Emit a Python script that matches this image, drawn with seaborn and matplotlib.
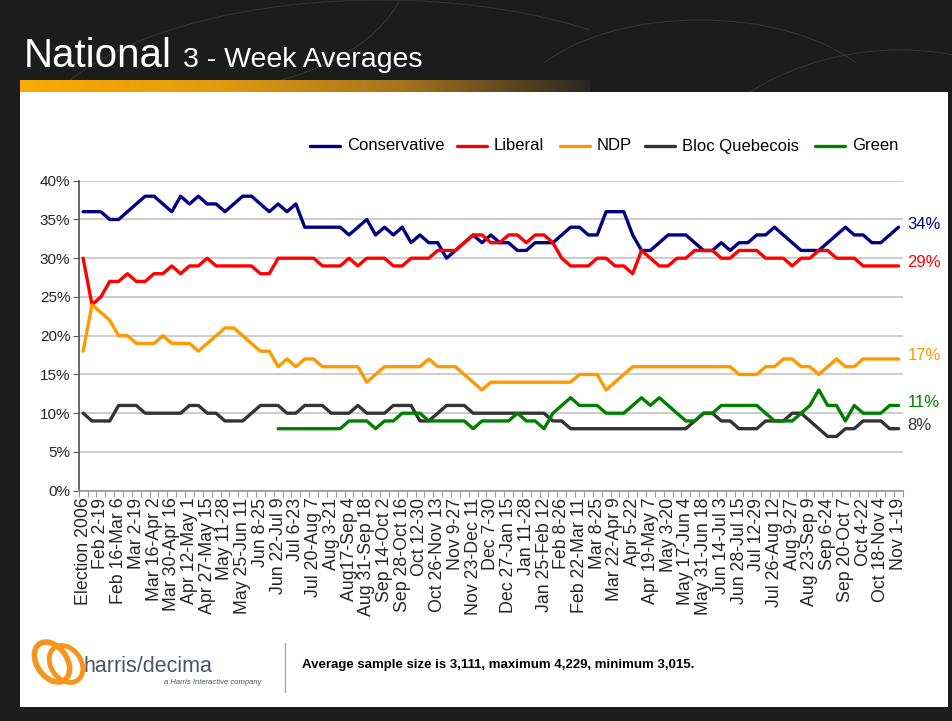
import numpy as np
import pandas as pd
import matplotlib.pyplot as plt
import matplotlib.patches as mpatches
from matplotlib.colors import LinearSegmentedColormap
import seaborn as sns

# labels shown on every second poll period
tick_labels = [
    "Election 2006", "Feb 2-19", "Feb 16-Mar 6", "Mar 2-19", "Mar 16-Apr 2",
    "Mar 30-Apr 16", "Apr 12-May 1", "Apr 27-May 15", "May 11-28", "May 25-Jun 11",
    "Jun 8-25", "Jun 22-Jul 9", "Jul 6-23", "Jul 20-Aug 7", "Aug 3-21",
    "Aug17-Sep 4", "Aug 31-Sep 18", "Sep 14-Oct 2", "Sep 28-Oct 16", "Oct 12-30",
    "Oct 26-Nov 13", "Nov 9-27", "Nov 23-Dec 11", "Dec 7-30", "Dec 27-Jan 15",
    "Jan 11-28", "Jan 25-Feb 12", "Feb 8-26", "Feb 22-Mar 11", "Mar 8-25",
    "Mar 22-Apr 9", "Apr 5-22", "Apr 19-May 7", "May 3-20", "May 17-Jun 4",
    "May 31-Jun 18", "Jun 14-Jul 3", "Jun 28-Jul 15", "Jul 12-29", "Jul 26-Aug 12",
    "Aug 9-27", "Aug 23-Sep 9", "Sep 6-24", "Sep 20-Oct 7", "Oct 4-22",
    "Oct 18-Nov 4", "Nov 1-19",
]

conservative = [36, 36, 36, 35, 35, 36, 37, 38, 38, 37, 36, 38, 37, 38, 37, 37, 36, 37, 38, 38, 37, 36, 37, 36, 37,
                34, 34, 34, 34, 34, 33, 34, 35, 33, 34, 33, 34, 32, 33, 32, 32, 30, 31, 32, 33, 32, 33,
                32, 32, 31, 31, 32, 32, 32, 33, 34, 34, 33, 33, 36, 36, 36, 33, 31, 31, 32, 33, 33, 33, 32,
                31, 31, 32, 31, 32, 32, 33, 33, 34, 33, 32, 31, 31, 31, 32, 33, 34, 33, 33, 32, 32, 33, 34]
liberal = [30, 24, 25, 27, 27, 28, 27, 27, 28, 28, 29, 28, 29, 29, 30, 29, 29, 29, 29, 29, 28, 28, 30,
           30, 30, 30, 30, 29, 29, 29, 30, 29, 30, 30, 30, 29, 29, 30, 30, 30, 31, 31, 31, 32, 33, 33, 32,
           32, 33, 33, 32, 33, 33, 32, 30, 29, 29, 29, 30, 30, 29, 29, 28, 31, 30, 29, 29, 30, 30, 31,
           31, 31, 30, 30, 31, 31, 31, 30, 30, 30, 29, 30, 30, 31, 31, 30, 30, 30, 29, 29, 29, 29, 29]
ndp = [18, 24, 23, 22, 20, 20, 19, 19, 19, 20, 19, 19, 19, 18, 19, 20, 21, 21, 20, 19, 18, 18, 16, 17,
       16, 17, 17, 16, 16, 16, 16, 16, 14, 15, 16, 16, 16, 16, 16, 17, 16, 16, 16, 15, 14, 13, 14,
       14, 14, 14, 14, 14, 14, 14, 14, 14, 15, 15, 15, 13, 14, 15, 16, 16, 16, 16, 16, 16, 16, 16,
       16, 16, 16, 16, 15, 15, 15, 16, 16, 17, 17, 16, 16, 15, 16, 17, 16, 16, 17, 17, 17, 17, 17]
bloc = [10, 9, 9, 9, 11, 11, 11, 10, 10, 10, 10, 10, 11, 11, 10, 10, 9, 9, 9, 10, 11, 11, 11, 10,
        10, 11, 11, 11, 10, 10, 10, 11, 10, 10, 10, 11, 11, 11, 9, 9, 10, 11, 11, 11, 10, 10, 10,
        10, 10, 10, 10, 10, 10, 9, 9, 8, 8, 8, 8, 8, 8, 8, 8, 8, 8, 8, 8, 8, 8, 9,
        10, 10, 9, 9, 8, 8, 8, 9, 9, 9, 10, 10, 9, 8, 7, 7, 8, 8, 9, 9, 9, 8, 8]
green = [np.nan] * 22 + [
    8, 8, 8, 8, 8, 8, 8, 8, 9, 9, 9, 8, 9, 9, 10, 10, 10, 9, 9, 9, 9, 9, 8, 9, 9,
    9, 9, 10, 9, 9, 8, 10, 11, 12, 11, 11, 11, 10, 10, 10, 11, 12, 11, 12, 11, 10, 9, 9,
    10, 10, 11, 11, 11, 11, 11, 10, 9, 9, 9, 10, 11, 13, 11, 11, 9, 11, 10, 10, 10, 11, 11]

parties = ["Conservative", "Liberal", "NDP", "Bloc Quebecois", "Green"]
colors = ["#000080", "#ff0000", "#ff9900", "#333333", "#008000"]

wide = pd.DataFrame({"Conservative": conservative, "Liberal": liberal, "NDP": ndp,
                     "Bloc Quebecois": bloc, "Green": green})
wide["period"] = np.arange(len(wide))
df = wide.melt(id_vars="period", var_name="party", value_name="share").dropna()

sns.set_theme(style="white")
plt.rcParams["font.family"] = ["Liberation Sans", "DejaVu Sans"]

W, H = 953, 721
fig = plt.figure(figsize=(W / 100, H / 100), dpi=100)
fig.patch.set_facecolor("#1c1c1c")

# background layer in pixel coordinates
bg = fig.add_axes([0, 0, 1, 1])
bg.set_xlim(0, W)
bg.set_ylim(H, 0)
bg.axis("off")
bg.set_facecolor("#1c1c1c")

# faint decorative curves in the header
for cx, cy, w, h, t1, t2 in [(380, 150, 700, 300, 180, 330), (900, 260, 500, 420, 190, 300),
                              (200, -40, 420, 260, 0, 120), (700, 120, 380, 200, 200, 340),
                              (820, 700, 260, 200, 20, 160)]:
    bg.add_patch(mpatches.Arc((cx, cy), w, h, theta1=t1, theta2=t2, color="#333333", lw=0.9))

bg.add_patch(mpatches.Rectangle((20, 92), 928, 615, facecolor="white", edgecolor="none", zorder=2))

# gold gradient strip under the title
cmap = LinearSegmentedColormap.from_list("gold", ["#f9ab00", "#e39c0e", "#a8741c", "#2a2622"])
bg.imshow(np.linspace(0, 1, 256).reshape(1, -1), cmap=cmap, extent=(20, 590, 92, 80),
          aspect="auto", zorder=2)

bg.text(24, 67, "National", color="white", fontsize=29, va="baseline", zorder=3)
bg.text(183, 67, "3 - Week Averages", color="white", fontsize=20.5, va="baseline", zorder=3)

# footer with logo
bg.add_patch(mpatches.Ellipse((52, 662), 30, 44, angle=-35, fill=False, ec="#f7941d", lw=4, zorder=3))
bg.add_patch(mpatches.Ellipse((66, 664), 30, 40, angle=-35, fill=False, ec="#f7941d", lw=3.5, zorder=3))
bg.text(84, 666, "harris/decima", color="#4b5561", fontsize=15.5, va="center", zorder=3)
bg.text(262, 683, "a Harris Interactive company", color="#4b5561", fontsize=5.5, style="italic",
        ha="right", va="center", zorder=3)
bg.plot([285, 285], [643, 692], color="#aaaaaa", lw=1, zorder=3)
bg.text(302, 665, "Average sample size is 3,111, maximum 4,229, minimum 3,015.",
        fontsize=9.5, fontweight="bold", color="black", va="center", zorder=3)

# legend drawn by hand above the plot
legend_x = [310, 457, 560, 645, 815]
for x0, party, c in zip(legend_x, parties, colors):
    bg.plot([x0, x0 + 30], [146, 146], color=c, lw=2.4, zorder=3)
    bg.text(x0 + 37, 150.5, party, color="black", fontsize=12, va="baseline", zorder=3)

# chart
ax = fig.add_axes([78.7 / W, 1 - 490.7 / H, (903 - 78.7) / W, (490.7 - 180.7) / H])
ax.set_facecolor("white")
sns.lineplot(data=df, x="period", y="share", hue="party", hue_order=parties,
             palette=dict(zip(parties, colors)), linewidth=2.4, legend=False, ax=ax)

ax.set_xlim(-0.5, len(wide) - 0.5)
ax.set_ylim(0, 40)
ax.set_yticks(range(0, 41, 5))
ax.set_yticklabels([f"{v}%" for v in range(0, 41, 5)], fontsize=11)
ax.yaxis.grid(True, color="#c8c8c8", lw=1.3)
ax.set_axisbelow(True)

ax.set_xticks(range(0, len(wide), 2))
ax.set_xticklabels(tick_labels, rotation=90, fontsize=12.8)
ax.set_xticks(np.arange(-0.5, len(wide), 1), minor=True)
ax.tick_params(axis="x", which="major", length=0, pad=5)
ax.tick_params(axis="x", which="minor", length=4, width=0.8, color="#999999", direction="out", bottom=True)
ax.tick_params(axis="y", length=4, width=0.8, color="#555555", direction="out", left=True, pad=2)
ax.set_xlabel("")
ax.set_ylabel("")
for s in ["top", "right"]:
    ax.spines[s].set_visible(False)
ax.spines["left"].set_color("#555555")
ax.spines["bottom"].set_color("#999999")

last = len(wide) - 1
for party, c in zip(parties, colors):
    v = wide[party].iloc[-1]
    ax.text(last + 1.0, v + 0.4, f"{int(v)}%", color=c, fontsize=12, va="center", ha="left", clip_on=False)

fig.savefig("out.png", dpi=100, facecolor=fig.get_facecolor())
